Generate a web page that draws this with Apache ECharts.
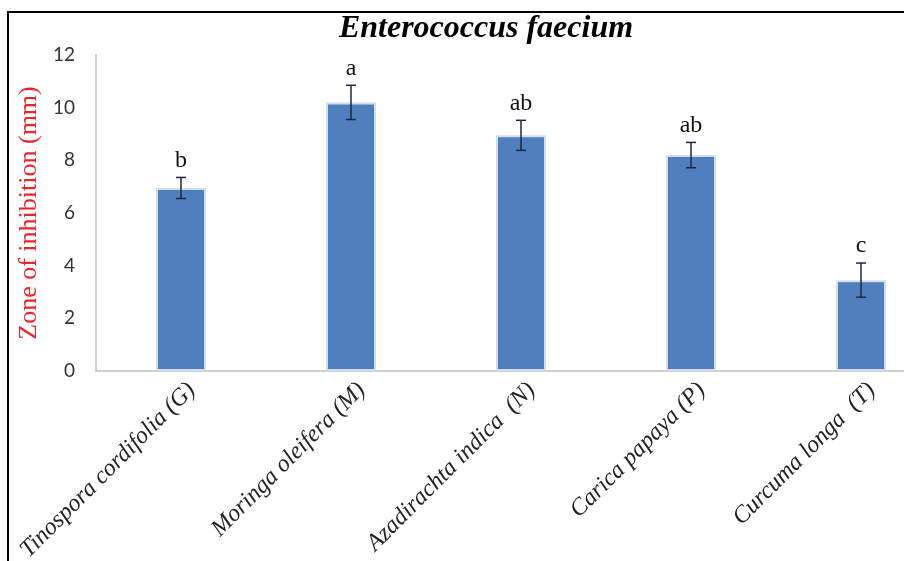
<!DOCTYPE html>
<html>
<head>
<meta charset="utf-8">
<script src="https://cdn.jsdelivr.net/npm/echarts@6/dist/echarts.min.js"></script>
<style>
  html, body { margin: 0; padding: 0; background: #fff; }
  #chart { width: 904px; height: 561px; }
</style>
</head>
<body>
<div id="chart"></div>
<script>
// Plant extracts tested against Enterococcus faecium
const categories = ['Tinospora cordifolia (G)', 'Moringa oleifera (M)', 'Azadirachta indica  (N)', 'Carica papaya (P)', 'Curcuma longa  (T)'];
const means = [6.95, 10.2, 8.95, 8.2, 3.45];
const errors = [0.4, 0.65, 0.57, 0.48, 0.65];
const groups = ['b', 'a', 'ab', 'ab', 'c'];
const yTicks = { min: 0, max: 12, interval: 2 };

const chart = echarts.init(document.getElementById('chart'));

const errData = means.map((m, i) => [i, m, errors[i], groups[i]]);

const catLabelStyle = {
  fontFamily: 'Liberation Serif',
  fontStyle: 'italic',
  fontSize: 24,
  color: '#222'
};

chart.setOption({
  animation: false,
  backgroundColor: '#fff',
  title: {
    text: 'Enterococcus faecium',
    left: 481,
    top: 8,
    textAlign: 'center',
    textStyle: {
      fontFamily: 'Liberation Serif',
      fontStyle: 'italic',
      fontWeight: 'bold',
      fontSize: 32,
      color: '#000'
    }
  },
  graphic: [{
    type: 'rect',
    shape: { x: 8, y: 12, width: 1000, height: 700 },
    style: { fill: 'none', stroke: '#000', lineWidth: 2 },
    silent: true,
    z: -1
  }],
  // the plot area runs past the right edge of the page
  grid: { left: 96, top: 55, height: 316, width: 850, outerBoundsMode: 'none', containLabel: false },
  xAxis: {
    type: 'category',
    data: categories,
    axisLine: { lineStyle: { color: '#bfbfbf', width: 1.5 } },
    axisTick: { show: false },
    axisLabel: Object.assign({
      rotate: 45,
      margin: 5,
      interval: 0,
      formatter: function (v) { return '{c|' + v + '}'; },
      rich: { c: Object.assign({ padding: [30, 0, 0, 0] }, catLabelStyle) }
    }, catLabelStyle)
  },
  yAxis: {
    type: 'value',
    min: yTicks.min,
    max: yTicks.max,
    interval: yTicks.interval,
    name: 'Zone of inhibition (mm)',
    nameLocation: 'middle',
    nameGap: 49,
    nameRotate: 90,
    nameTextStyle: {
      fontFamily: 'Liberation Serif',
      fontSize: 26,
      color: '#e8262d'
    },
    axisLine: { show: true, lineStyle: { color: '#bfbfbf', width: 1.5 } },
    axisTick: { show: false },
    splitLine: { show: false },
    axisLabel: {
      margin: 21,
      fontFamily: 'Lato',
      fontSize: 19,
      color: '#333'
    }
  },
  series: [
    {
      type: 'bar',
      data: means,
      barWidth: 50,
      itemStyle: {
        color: '#4f7fbc',
        borderColor: '#d3deec',
        borderWidth: 2
      }
    },
    {
      type: 'custom',
      data: errData,
      z: 5,
      renderItem: function (params, api) {
        const i = api.value(0);
        const m = api.value(1);
        const e = api.value(2);
        const hi = api.coord([i, m + e]);
        const lo = api.coord([i, m - e]);
        const cap = 5;
        const style = { stroke: '#1c2740', lineWidth: 1.5 };
        return {
          type: 'group',
          children: [
            { type: 'line', shape: { x1: hi[0], y1: hi[1], x2: lo[0], y2: lo[1] }, style: style },
            { type: 'line', shape: { x1: hi[0] - cap, y1: hi[1], x2: hi[0] + cap, y2: hi[1] }, style: style },
            { type: 'line', shape: { x1: lo[0] - cap, y1: lo[1], x2: lo[0] + cap, y2: lo[1] }, style: style },
            {
              type: 'text',
              x: hi[0],
              y: hi[1] - 5,
              style: {
                text: groups[params.dataIndex],
                fontFamily: 'Liberation Serif',
                fontSize: 24,
                fill: '#111',
                align: 'center',
                verticalAlign: 'bottom'
              }
            }
          ]
        };
      }
    }
  ]
});
</script>
</body>
</html>
